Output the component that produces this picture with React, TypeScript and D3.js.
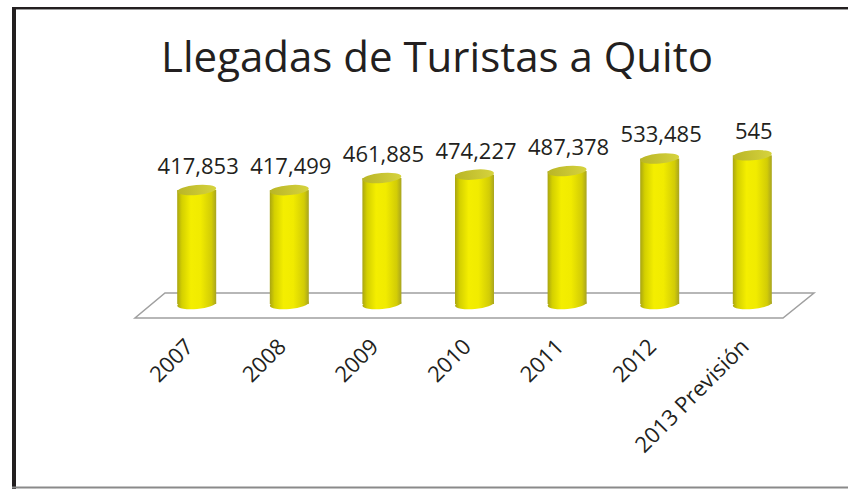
import React from "react";
import * as d3 from "d3";

const categories = ["2007", "2008", "2009", "2010", "2011", "2012", "2013 Previsión"];
const values = [417853, 417499, 461885, 474227, 487378, 533485, 545000];
const valueLabels = ["417,853", "417,499", "461,885", "474,227", "487,378", "533,485", "545"];
const title = "Llegadas de Turistas a Quito";

const W = 848;
const H = 489;
const FONT = "'Open Sans', 'Noto Sans', sans-serif";
const TEXT = "#231f20";

export default function App() {
  const x = d3.scalePoint<string>().domain(categories).range([150.4, 798.6]).padding(0.5);
  const y = d3.scaleLinear().domain([0, 600000]).range([304, 304 - 600000 * 0.0002728]);
  const bw = 39;
  const rx = bw / 2;
  const ry = 5;
  const tilt = -5;

  const floor = d3.line()([
    [165, 293],
    [814, 293],
    [783, 318],
    [135, 318],
  ]) + "Z";

  return (
    <svg
      width={W}
      height={H}
      style={{ position: "absolute", left: 0, top: 0, background: "#fff" }}
    >
      <defs>
        <linearGradient id="body" x1="0" x2="1" y1="0" y2="0">
          <stop offset="0" stopColor="#a9a512" />
          <stop offset="0.12" stopColor="#d4d000" />
          <stop offset="0.35" stopColor="#f4ee00" />
          <stop offset="0.6" stopColor="#f1eb00" />
          <stop offset="0.88" stopColor="#d2cc06" />
          <stop offset="1" stopColor="#a8a420" />
        </linearGradient>
        <linearGradient id="cap" x1="0" x2="1" y1="0" y2="0">
          <stop offset="0" stopColor="#b9b526" />
          <stop offset="1" stopColor="#d6d33e" />
        </linearGradient>
      </defs>
      <rect x={0} y={0} width={W} height={H} fill="#fff" />
      <line x1={12} x2={W} y1={8} y2={8} stroke="#231f20" strokeWidth={2} />
      <line x1={12} x2={W} y1={9.5} y2={9.5} stroke="#9a9a9a" strokeWidth={1} />
      <line x1={14} x2={14} y1={7} y2={H} stroke="#231f20" strokeWidth={4} />
      <line x1={12} x2={W} y1={487.5} y2={487.5} stroke="#8a8a8a" strokeWidth={2} />

      <text
        x={437}
        y={72}
        textAnchor="middle"
        fontFamily={FONT}
        fontSize={42}
        fill={TEXT}
      >
        {title}
      </text>

      <path d={floor} fill="#fff" stroke="#a0a0a0" strokeWidth={1.5} />

      {categories.map((c, i) => {
        const cx = x(c)!;
        const yt = y(values[i]);
        const yb = y(0);
        return (
          <g key={c}>
            <ellipse
              cx={cx}
              cy={yb}
              rx={rx}
              ry={ry}
              fill="url(#body)"
              transform={`rotate(${tilt},${cx},${yb})`}
            />
            <rect x={cx - rx} y={yt} width={bw} height={yb - yt} fill="url(#body)" />
            <ellipse
              cx={cx}
              cy={yt}
              rx={rx}
              ry={ry}
              fill="url(#cap)"
              transform={`rotate(${tilt},${cx},${yt})`}
            />
            <text
              x={cx + 1.5}
              y={yt - 16}
              textAnchor="middle"
              fontFamily={FONT}
              fontSize={22}
              fill={TEXT}
            >
              {valueLabels[i]}
            </text>
            <text
              transform={`translate(${cx - 2},${348}) rotate(-45)`}
              textAnchor="end"
              fontFamily={FONT}
              fontSize={22}
              fill={TEXT}
            >
              {c}
            </text>
          </g>
        );
      })}
    </svg>
  );
}
